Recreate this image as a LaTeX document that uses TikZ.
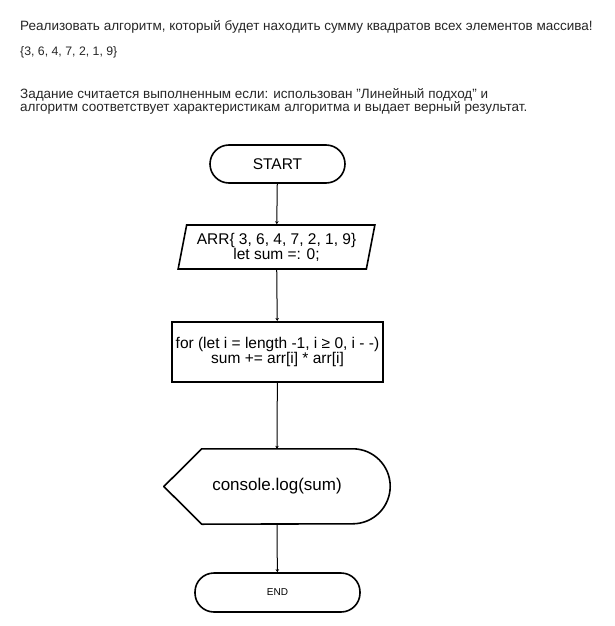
\documentclass[tikz,border=0pt]{standalone}
\usepackage{fontspec}
\setmainfont{Liberation Sans}
\usetikzlibrary{shapes.geometric,arrows.meta}

\begin{document}
\begin{tikzpicture}[x=1pt,y=-1pt,
		txt/.style={anchor=base west,inner sep=0pt,font=\fontsize{13.5}{14}\selectfont,text=black!85},
		term/.style={draw,line width=1.6pt,rounded corners=19pt,minimum height=38pt,inner sep=0pt},
		flow/.style={line width=1pt,-{Stealth[length=3pt,width=3.5pt]}}]
		\useasboundingbox (0,0) rectangle (615,626);
		% task text
		\node[txt] (t1) at (20,31) {Реализовать алгоритм, который будет находить сумму квадратов всех элементов массива!};
		\node[txt,font=\fontsize{12.3}{13}\selectfont] (t2) at (20,56) {\{3, 6, 4, 7, 2, 1, 9\}};
		\node[txt] (t3) at (20,98) {Задание считается выполненным если: использован "Линейный подход" и};
		\node[txt] (t4) at (20,111) {алгоритм соответствует характеристикам алгоритма и выдает верный результат.};
		% flowchart
		\node[term,minimum width=135pt,font=\fontsize{15.5}{16}\selectfont] (start) at (277.5,164) {START};
		\node[trapezium,trapezium left angle=75,trapezium right angle=105,trapezium stretches=true,
			draw,line width=1.6pt,minimum width=197pt,minimum height=44pt,inner sep=0pt,align=center,
			font=\fontsize{15.5}{15}\selectfont] (arr) at (276.5,247) {ARR\{ 3, 6, 4, 7, 2, 1, 9\}\\let sum =: 0;};
		\node[draw,line width=2pt,minimum width=211pt,minimum height=60pt,inner sep=0pt,align=center,
			font=\fontsize{15.5}{15}\selectfont] (loop) at (277.5,352) {for (let i = length -1, i ≥ 0, i - -)\\sum += arr[i] * arr[i]};
		\node[minimum width=226pt,minimum height=75pt,inner sep=0pt,font=\fontsize{17}{18}\selectfont] (out) at (277,486.5) {console.log(sum)};
		\draw[line width=1.6pt,line join=round] (out.west) -- ([xshift=38pt]out.north west) -- ([xshift=-37.5pt]out.north east)
			arc[start angle=90,end angle=-90,radius=37.5pt] -- ([xshift=38pt]out.south west) -- cycle;
		\node[term,minimum width=165pt,minimum height=39pt,font=\fontsize{10}{11}\selectfont] (end) at (277.5,592.5) {END};
		\draw[flow] (start) -- (arr);
		\draw[flow] (arr) -- (loop);
		\draw[flow] (loop) -- (out.north);
		\draw[flow] (out.south) -- (end);
	\end{tikzpicture}
\end{document}
